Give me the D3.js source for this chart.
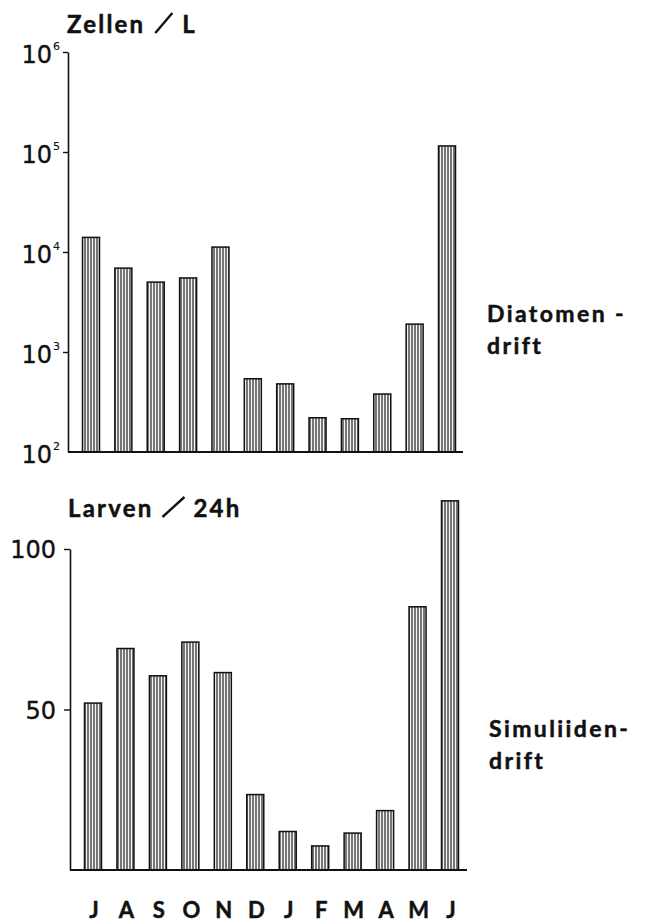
<!DOCTYPE html>
<html>
<head>
<meta charset="utf-8">
<script src="https://cdn.jsdelivr.net/npm/d3@7"></script>
<style>
    body { margin: 0; background: #fff; }
    svg { display: block; }
    .label { font-family: Lato, "Open Sans", sans-serif; font-weight: 700; fill: #111; stroke: #111; stroke-width: 0.5; }
    .tick text { font-family: "DejaVu Sans", sans-serif; fill: #111; stroke: #111; stroke-width: 0.35; }
</style>
</head>
<body>
<div id="chart"></div>
<script>
// values
const months = ['J', 'A', 'S', 'O', 'N', 'D', 'J', 'F', 'M', 'A', 'M', 'J'];
const diatomen = [14000, 6900, 5000, 5500, 11200, 540, 480, 220, 215, 380, 1900, 115000];
const simuliiden = [52, 69, 60.5, 71, 61.5, 23.5, 12, 7.5, 11.5, 18.5, 82, 115];
const logTicks = [100, 1000, 10000, 100000, 1000000];
const linTicks = [50, 100];

const width = 650, height = 922;
const svg = d3.select('#chart').append('svg')
    .attr('width', width)
    .attr('height', height);

// vertical hatching used by all bars
const pattern = svg.append('defs').append('pattern')
    .attr('id', 'hatch')
    .attr('patternUnits', 'userSpaceOnUse')
    .attr('width', 3)
    .attr('height', 10);
pattern.append('rect').attr('width', 3).attr('height', 10).attr('fill', '#f4f4f4');
pattern.append('line')
    .attr('x1', 1).attr('x2', 1).attr('y1', 0).attr('y2', 10)
    .attr('stroke', '#222').attr('stroke-width', 1.2);

function drawBars(g, data, x, y, baseY) {
    g.selectAll('rect.bar')
        .data(data)
        .join('rect')
        .attr('class', 'bar')
        .attr('x', (d, i) => x(i) - 8.5)
        .attr('width', 17)
        .attr('y', (d) => y(d))
        .attr('height', (d) => baseY - y(d))
        .attr('fill', 'url(#hatch)')
        .attr('stroke', '#111')
        .attr('stroke-width', 1.5);
}

function styleAxis(g) {
    g.select('.domain').attr('stroke', '#111').attr('stroke-width', 1.6);
    g.selectAll('.tick line').attr('stroke', '#111').attr('stroke-width', 1.4);
}

// slashed title like "Zellen / L"
function slashTitle(x, yBase, left, right, gap, slashW) {
    const t = svg.append('text')
        .attr('class', 'label')
        .attr('x', x).attr('y', yBase)
        .attr('font-size', 24)
        .attr('letter-spacing', 2.2)
        .text(left);
    const w = t.node().getComputedTextLength();
    const sx = x + w + gap;
    svg.append('line')
        .attr('x1', sx).attr('y1', yBase)
        .attr('x2', sx + slashW).attr('y2', yBase - 20)
        .attr('stroke', '#111').attr('stroke-width', 2.4);
    svg.append('text')
        .attr('class', 'label')
        .attr('x', sx + slashW + gap)
        .attr('y', yBase)
        .attr('font-size', 24)
        .attr('letter-spacing', 2.2)
        .text(right);
}

function sideLabel(x, y, lines) {
    lines.forEach((s, i) => {
        svg.append('text').attr('class', 'label')
            .attr('x', x).attr('y', y + i * 32)
            .attr('font-size', 23)
            .attr('letter-spacing', 2.4)
            .text(s);
    });
}

/* ---- top panel: Diatomendrift, log scale ---- */
const xTop = d3.scalePoint().domain(d3.range(months.length)).range([91, 447]);
const yTop = d3.scaleLog().domain([100, 1e6]).range([452, 52]);
const topPanel = svg.append('g');

drawBars(topPanel, diatomen, xTop, yTop, 452);

const axTop = topPanel.append('g')
    .attr('transform', 'translate(68,0)')
    .call(d3.axisLeft(yTop).tickValues(logTicks).tickSize(5).tickSizeOuter(0).tickPadding(3));
styleAxis(axTop);
axTop.selectAll('.tick').filter((d) => d === 100).select('line').remove();
axTop.selectAll('.tick text').each(function (d) {
    const t = d3.select(this).text('').attr('font-size', 24).attr('dy', '0.45em');
    t.append('tspan').text('10');
    t.append('tspan')
        .attr('font-size', 11)
        .attr('stroke-width', 0.15)
        .attr('dy', '-1.25em')
        .attr('dx', 1)
        .text(Math.round(Math.log10(d)));
});

topPanel.append('line')
    .attr('x1', 68).attr('x2', 463)
    .attr('y1', 452).attr('y2', 452)
    .attr('stroke', '#111').attr('stroke-width', 2);

slashTitle(67, 33, 'Zellen', 'L', 10, 17);
sideLabel(487, 322, ['Diatomen -', 'drift']);

/* ---- bottom panel: Simuliidendrift, linear scale ---- */
const xBot = d3.scalePoint().domain(d3.range(months.length)).range([93, 450]);
const yBot = d3.scaleLinear().domain([0, 100]).range([870, 549]);
const botPanel = svg.append('g');

drawBars(botPanel, simuliiden, xBot, yBot, 870);

const axBot = botPanel.append('g')
    .attr('transform', 'translate(70,0)')
    .call(d3.axisLeft(yBot).tickValues(linTicks).tickSize(6).tickSizeOuter(0).tickPadding(8));
styleAxis(axBot);
axBot.selectAll('.tick text').attr('font-size', 24).attr('dy', '0.36em');

botPanel.append('line')
    .attr('x1', 70).attr('x2', 467)
    .attr('y1', 870).attr('y2', 870)
    .attr('stroke', '#111').attr('stroke-width', 2);

slashTitle(68, 517, 'Larven', '24h', 9, 22);
sideLabel(489, 737, ['Simuliiden-', 'drift']);

// month letters under the lower panel
botPanel.selectAll('text.month')
    .data(months)
    .join('text')
    .attr('class', 'label month')
    .attr('x', (d, i) => xBot(i) + 1)
    .attr('y', 918)
    .attr('text-anchor', 'middle')
    .attr('font-size', 22)
    .text((d) => d);
</script>
</body>
</html>
